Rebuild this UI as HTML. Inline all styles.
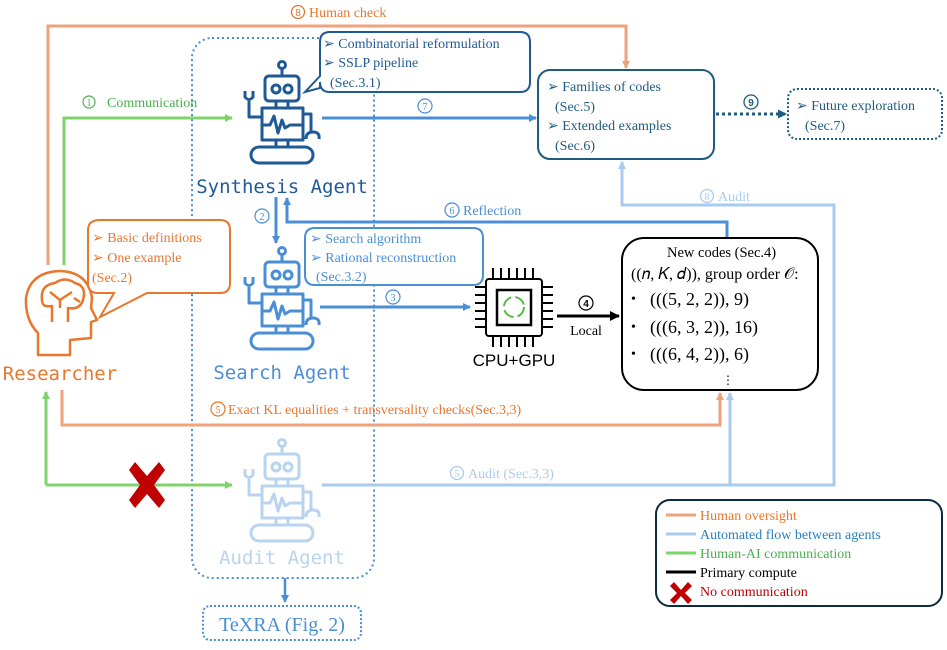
<!DOCTYPE html>
<html><head><meta charset="utf-8"><style>
html,body{margin:0;padding:0;background:#fff}
svg{display:block;font-family:"Liberation Serif",serif}
.m{font-family:"DejaVu Sans Mono","Liberation Mono",monospace}
</style></head><body>
<svg width="947" height="650" viewBox="0 0 947 650" xmlns="http://www.w3.org/2000/svg">
<defs>
<marker id="ao" markerWidth="8" markerHeight="8" refX="7" refY="4" orient="auto" markerUnits="userSpaceOnUse"><path d="M0,0 L8,4 L0,8z" fill="#f0a27c"/></marker>
<marker id="ag" markerWidth="8" markerHeight="8" refX="7" refY="4" orient="auto" markerUnits="userSpaceOnUse"><path d="M0,0 L8,4 L0,8z" fill="#7fd36b"/></marker>
<marker id="ab" markerWidth="8" markerHeight="8" refX="7" refY="4" orient="auto" markerUnits="userSpaceOnUse"><path d="M0,0 L8,4 L0,8z" fill="#4a8fd6"/></marker>
<marker id="al" markerWidth="8" markerHeight="8" refX="7" refY="4" orient="auto" markerUnits="userSpaceOnUse"><path d="M0,0 L8,4 L0,8z" fill="#a9cbef"/></marker>
<marker id="ak" markerWidth="10" markerHeight="10" refX="9" refY="5" orient="auto" markerUnits="userSpaceOnUse"><path d="M0,0 L10,5 L0,10z" fill="#000"/></marker>
<marker id="ad" markerWidth="9" markerHeight="9" refX="8" refY="4.5" orient="auto" markerUnits="userSpaceOnUse"><path d="M0,0 L9,4.5 L0,9z" fill="#1e5b7e"/></marker>
<g id="robot" fill="none" stroke-width="3" stroke-linejoin="round">
<circle cx="282" cy="65" r="3.5"/><line x1="282" y1="69" x2="282" y2="76"/>
<rect x="265" y="76" width="34" height="25" rx="4"/>
<circle cx="276" cy="89" r="4"/><circle cx="288" cy="89" r="4"/>
<line x1="276" y1="101" x2="276" y2="108"/><line x1="288" y1="101" x2="288" y2="108"/>
<rect x="262" y="108" width="41" height="32"/>
<path d="M262,125 L270,125 L274,116 L278,133 L282,120 L285,128 L290,125 L303,125"/>
<path d="M245,91 L245,97 Q249,102 253,97 L253,91 M249,101 L249,117 L262,117"/>
<path d="M303,114 L311,114 L311,132 M306,139 Q306,132 313,132 Q320,132 319,139"/>
<line x1="276" y1="140" x2="276" y2="147"/><line x1="288" y1="140" x2="288" y2="147"/>
<rect x="251" y="147" width="62" height="16" rx="8"/>
</g>
</defs>

<rect x="192" y="38" width="182" height="540" rx="20" fill="none" stroke="#4a8fd6" stroke-width="2" stroke-dasharray="2,3"/>

<path d="M48,265 L48,26 L626,26 L626,68" fill="none" stroke="#f0a27c" stroke-width="3" marker-end="url(#ao)"/>
<circle cx="298" cy="12" r="6.5" fill="#fff" stroke="#e8772e" stroke-width="1.3"/><text x="298" y="16" font-size="10" text-anchor="middle" fill="#e8772e" font-family="Liberation Sans">8</text>
<text x="309" y="17" font-size="14" fill="#e8772e">Human check</text>

<path d="M64,265 L64,118 L232,118" fill="none" stroke="#7fd36b" stroke-width="3" marker-end="url(#ag)"/>
<circle cx="89" cy="102" r="6" fill="none" stroke="#4caf50" stroke-width="1.2"/><text x="89" y="106" font-size="10" text-anchor="middle" fill="#4caf50">1</text>
<text x="107" y="107" font-size="14" fill="#4caf50">Communication</text>

<use href="#robot" stroke="#1f5a96"/>
<text x="282" y="193" class="m" font-size="19" text-anchor="middle" fill="#1f5a96">Synthesis Agent</text>
<path d="M330,32 L520,32 Q530,32 530,42 L530,82 Q530,92 520,92 L330,92 Q320,92 320,82 L320,88 L305,92 L320,76 L320,42 Q320,32 330,32z" fill="#fff" stroke="#1f5a96" stroke-width="2"/>
<text font-size="14" fill="#1f5a96"><tspan x="323" y="48">➢  Combinatorial reformulation</tspan><tspan x="323" y="67">➢  SSLP pipeline</tspan><tspan x="330" y="87">(Sec.3.1)</tspan></text>

<path d="M322,118 L536,118" stroke="#4a8fd6" stroke-width="3" marker-end="url(#ab)"/>
<circle cx="425" cy="106" r="7" fill="#fff" stroke="#4a8fd6" stroke-width="1.2"/><text x="425" y="110" font-size="10" text-anchor="middle" fill="#4a8fd6">7</text>

<rect x="538" y="70" width="176" height="89" rx="12" fill="#fff" stroke="#1e5b7e" stroke-width="2"/>
<text font-size="14" fill="#1e5b7e"><tspan x="547" y="91">➢  Families of codes</tspan><tspan x="555" y="111">(Sec.5)</tspan><tspan x="547" y="130">➢  Extended examples</tspan><tspan x="555" y="150">(Sec.6)</tspan></text>
<path d="M716,114 L786,114" stroke="#1e5b7e" stroke-width="3" stroke-dasharray="3,3" marker-end="url(#ad)"/>
<circle cx="751" cy="102" r="7" fill="#fff" stroke="#1e5b7e" stroke-width="1.3"/><text x="751" y="106" font-size="10" text-anchor="middle" fill="#1e5b7e" font-family="Liberation Sans" font-weight="bold">9</text>
<rect x="788" y="89" width="154" height="50" rx="9" fill="none" stroke="#1e5b7e" stroke-width="2" stroke-dasharray="2,2"/>
<text font-size="14" fill="#1e5b7e"><tspan x="796" y="110">➢  Future exploration</tspan><tspan x="805" y="130">(Sec.7)</tspan></text>

<path d="M322,485 L834,485 L834,205 L622,205 L622,162" fill="none" stroke="#a9cbef" stroke-width="3" marker-end="url(#al)"/>
<path d="M730,485 L730,393" fill="none" stroke="#a9cbef" stroke-width="3" marker-end="url(#al)"/>
<circle cx="707" cy="196" r="6.5" fill="#fff" stroke="#a9cbef" stroke-width="1.3"/><text x="707" y="200" font-size="10" text-anchor="middle" fill="#a9cbef">8</text>
<text x="718" y="201" font-size="14" fill="#a9cbef">Audit</text>
<circle cx="457" cy="473" r="6.5" fill="#fff" stroke="#a9cbef" stroke-width="1.3"/><text x="457" y="477" font-size="10" text-anchor="middle" fill="#a9cbef">5</text>
<text x="468" y="478" font-size="14" fill="#a9cbef">Audit (Sec.3,3)</text>

<path d="M727,240 L727,222 L287,222 L287,198" fill="none" stroke="#4a8fd6" stroke-width="3" marker-end="url(#ab)"/>
<circle cx="452" cy="210" r="7" fill="#fff" stroke="#4a8fd6" stroke-width="1.2"/><text x="452" y="214" font-size="10" text-anchor="middle" fill="#4a8fd6">6</text>
<text x="463" y="215" font-size="14" fill="#4a8fd6">Reflection</text>

<path d="M276,197 L276,243" stroke="#4a8fd6" stroke-width="3" marker-end="url(#ab)"/>
<circle cx="262" cy="216" r="7" fill="#fff" stroke="#4a8fd6" stroke-width="1.2"/><text x="262" y="220" font-size="10" text-anchor="middle" fill="#4a8fd6">2</text>

<use href="#robot" stroke="#4a8fd6" transform="translate(0,186)"/>
<text x="282" y="379" class="m" font-size="19" text-anchor="middle" fill="#4a8fd6">Search Agent</text>
<path d="M315,228 L473,228 Q483,228 483,238 L483,275 Q483,285 473,285 L315,285 Q305,285 305,275 L305,238 Q305,228 315,228z" fill="#fff" stroke="#4a8fd6" stroke-width="2"/>
<text font-size="14" fill="#4a8fd6"><tspan x="310" y="243">➢  Search algorithm</tspan><tspan x="310" y="262">➢  Rational reconstruction</tspan><tspan x="316" y="281">(Sec.3.2)</tspan></text>

<path d="M320,307 L470,307" stroke="#4a8fd6" stroke-width="3" marker-end="url(#ab)"/>
<circle cx="393" cy="297" r="7" fill="#fff" stroke="#4a8fd6" stroke-width="1.2"/><text x="393" y="301" font-size="10" text-anchor="middle" fill="#4a8fd6">3</text>

<g stroke="#000" stroke-width="2" fill="none">
<rect x="486" y="279" width="56" height="57" rx="3"/>
<rect x="497" y="290" width="34" height="35" stroke-width="2.5"/>
<path d="M493,268v11M501,268v11M509,268v11M517,268v11M525,268v11M533,268v11M493,336v11M501,336v11M509,336v11M517,336v11M525,336v11M533,336v11M475,287h11M475,295h11M475,303h11M475,311h11M475,319h11M475,327h11M542,287h11M542,295h11M542,303h11M542,311h11M542,319h11M542,327h11"/>
</g>
<circle cx="514" cy="307" r="10" fill="none" stroke="#5bbb4a" stroke-width="2" stroke-dasharray="12,4"/>
<text x="514" y="366" font-family="Liberation Sans" font-size="17" text-anchor="middle">CPU+GPU</text>

<path d="M557,316 L619,316" stroke="#000" stroke-width="3" marker-end="url(#ak)"/>
<circle cx="586" cy="303" r="7" fill="#fff" stroke="#000" stroke-width="1.2"/><text x="586" y="307" font-size="10" text-anchor="middle" font-weight="bold" font-family="Liberation Sans">4</text>
<text x="586" y="335" font-size="14" text-anchor="middle">Local</text>

<rect x="622" y="238" width="196" height="152" rx="22" fill="#fff" stroke="#000" stroke-width="2"/>
<text font-size="14.5" fill="#000"><tspan x="667" y="257">New codes (Sec.4)</tspan><tspan x="631" y="279" font-size="16">((𝑛, 𝐾, 𝑑)), group order 𝒪:</tspan></text>
<text font-size="14"><tspan x="631" y="303">•</tspan><tspan x="631" y="331">•</tspan><tspan x="631" y="358">•</tspan></text>
<text font-size="18"><tspan x="650" y="305">(((5, 2, 2)), 9)</tspan><tspan x="650" y="333">(((6, 3, 2)), 16)</tspan><tspan x="650" y="360">(((6, 4, 2)), 6)</tspan></text>
<text x="728" y="384" font-size="12" text-anchor="middle">⋮</text>

<path d="M62,390 L62,425 L720,425 L720,393" fill="none" stroke="#f0a27c" stroke-width="3" marker-end="url(#ao)"/>
<circle cx="218" cy="409" r="7" fill="#fff" stroke="#e8772e" stroke-width="1.2"/><text x="218" y="413" font-size="10" text-anchor="middle" fill="#e8772e">5</text>
<text x="228" y="414" font-size="14" fill="#e8772e">Exact KL equalities + transversality checks(Sec.3,3)</text>

<path d="M46,485 L46,392" fill="none" stroke="#7fd36b" stroke-width="3" marker-end="url(#ag)"/>
<path d="M46,485 L232,485" fill="none" stroke="#7fd36b" stroke-width="3" marker-end="url(#ag)"/>
<path d="M129,470 L135,462 L147,476 L159,462 L165,470 L154,485 L165,500 L159,508 L147,494 L135,508 L129,500 L140,485z" fill="#c00000"/>

<use href="#robot" stroke="#b8d4ef" transform="translate(0,378)"/>
<text x="282" y="564" class="m" font-size="19" text-anchor="middle" fill="#b8d4ef">Audit Agent</text>

<path d="M285,578 L285,602" stroke="#4a8fd6" stroke-width="2.5" marker-end="url(#ab)"/>
<rect x="203" y="606" width="158" height="34" rx="7" fill="none" stroke="#4a8fd6" stroke-width="2" stroke-dasharray="2,2"/>
<text x="282" y="631" font-size="20" text-anchor="middle" fill="#4a8fd6">TeXRA (Fig. 2)</text>

<g fill="none" stroke="#e8772e" stroke-width="2.5" stroke-linejoin="round">
<path d="M38,355 L38,333 Q25,320 26,298 Q30,272 60,271 Q88,272 92,298 L91,308 L97,320 L91,322 L91,338 L70,340 L70,355z"/>
<path d="M42,300 Q40,285 55,283 Q65,276 75,283 Q87,286 83,300 Q80,310 68,308 L68,322 M52,322 L52,306 Q42,308 42,300 M50,292 L60,300 L72,292 M60,300 L60,308 M74,298 L80,302"/>
</g>
<text x="60" y="380" class="m" font-size="19" text-anchor="middle" fill="#e8772e">Researcher</text>
<path d="M100,220 L220,220 Q230,220 230,230 L230,283 Q230,293 220,293 L147,293 L100,317 L114,293 L98,293 Q88,293 88,283 L88,230 Q88,220 100,220z" fill="#fff" stroke="#e8772e" stroke-width="2"/>
<text font-size="14" fill="#e8772e"><tspan x="92" y="242">➢  Basic definitions</tspan><tspan x="92" y="262">➢  One example</tspan><tspan x="92" y="282">(Sec.2)</tspan></text>

<rect x="656" y="500" width="286" height="106" rx="14" fill="#fff" stroke="#0d2b3e" stroke-width="2"/>
<g stroke-width="3"><line x1="666" y1="515" x2="696" y2="515" stroke="#f0a27c"/><line x1="666" y1="534" x2="696" y2="534" stroke="#a9cbef"/><line x1="666" y1="553" x2="696" y2="553" stroke="#7fd36b"/><line x1="666" y1="572" x2="696" y2="572" stroke="#000"/></g>
<path d="M670,586 L674,582 L681,590 L688,582 L692,586 L685,593 L692,600 L688,604 L681,596 L674,604 L670,600 L677,593z" fill="#c00000"/>
<text font-size="14"><tspan x="700" y="520" fill="#e8772e">Human oversight</tspan><tspan x="700" y="539" fill="#2a7fc0">Automated flow between agents</tspan><tspan x="700" y="558" fill="#4caf50">Human-AI communication</tspan><tspan x="700" y="577" fill="#000">Primary compute</tspan><tspan x="700" y="596" fill="#c00000">No communication</tspan></text>
</svg>
</body></html>
